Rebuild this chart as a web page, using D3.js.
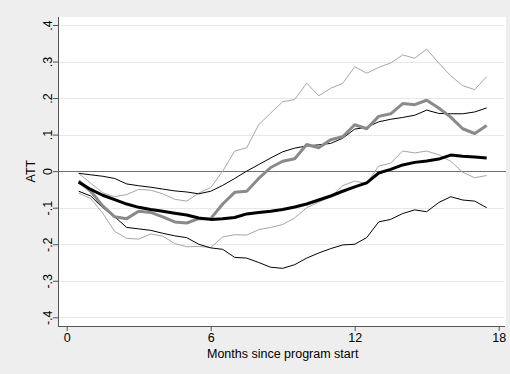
<!DOCTYPE html>
<html>
<head>
<meta charset="utf-8">
<script src="https://cdn.jsdelivr.net/npm/d3@7"></script>
<style>
  body { margin: 0; background: #eeeeee; }
  text { font-family: "Liberation Sans", Arial, sans-serif; fill: #000; }
</style>
</head>
<body>
<div id="chart"></div>
<script>
// months since start (x values shared by every series)
const months = [0.5, 1, 1.5, 2, 2.5, 3, 3.5, 4, 4.5, 5, 5.5, 6, 6.5, 7, 7.5, 8, 8.5, 9,
  9.5, 10, 10.5, 11, 11.5, 12, 12.5, 13, 13.5, 14, 14.5, 15, 15.5, 16, 16.5, 17, 17.5];

// ATT estimate (thick black) and its band (thin black)
const attA = [-0.03, -0.05, -0.066, -0.078, -0.09, -0.099, -0.105, -0.11, -0.115, -0.12, -0.128, -0.132,
  -0.13, -0.127, -0.117, -0.113, -0.11, -0.105, -0.098, -0.09, -0.079, -0.068, -0.055, -0.043,
  -0.032, -0.005, 0.005, 0.017, 0.024, 0.028, 0.033, 0.044, 0.041, 0.039, 0.036];
const upperA = [-0.006, -0.01, -0.014, -0.02, -0.035, -0.04, -0.044, -0.049, -0.054, -0.057, -0.062, -0.055,
  -0.039, -0.02, 0.0, 0.018, 0.036, 0.053, 0.063, 0.069, 0.072, 0.076, 0.09, 0.115,
  0.12, 0.135, 0.142, 0.147, 0.153, 0.167, 0.158, 0.157, 0.157, 0.162, 0.173];
const lowerA = [-0.055, -0.068, -0.1, -0.125, -0.154, -0.158, -0.162, -0.17, -0.177, -0.182, -0.2, -0.21,
  -0.214, -0.236, -0.238, -0.25, -0.263, -0.266, -0.256, -0.238, -0.224, -0.212, -0.202, -0.2,
  -0.182, -0.139, -0.132, -0.116, -0.106, -0.111, -0.086, -0.07, -0.079, -0.082, -0.1];

// second ATT estimate (thick gray) and its band (thin gray)
const attB = [-0.027, -0.055, -0.095, -0.125, -0.13, -0.11, -0.113, -0.125, -0.139, -0.142, -0.13, -0.13,
  -0.09, -0.058, -0.055, -0.02, 0.01, 0.027, 0.034, 0.073, 0.064, 0.086, 0.094, 0.127,
  0.116, 0.15, 0.157, 0.185, 0.182, 0.194, 0.173, 0.148, 0.116, 0.103, 0.125];
const upperB = [-0.006, -0.033, -0.059, -0.07, -0.064, -0.05, -0.052, -0.062, -0.077, -0.082, -0.06, -0.045,
  0.0, 0.055, 0.064, 0.127, 0.159, 0.19, 0.196, 0.241, 0.206, 0.227, 0.24, 0.286,
  0.268, 0.284, 0.296, 0.318, 0.309, 0.334, 0.296, 0.261, 0.234, 0.223, 0.259];
const lowerB = [-0.06, -0.075, -0.115, -0.165, -0.184, -0.186, -0.172, -0.178, -0.198, -0.207, -0.206, -0.209,
  -0.18, -0.174, -0.175, -0.16, -0.154, -0.146, -0.128, -0.1, -0.085, -0.07, -0.04, -0.027,
  -0.034, 0.014, 0.022, 0.055, 0.05, 0.055, 0.045, 0.027, -0.003, -0.018, -0.012];

const xTicks = [0, 6, 12, 18];
const yTicks = [-0.4, -0.3, -0.2, -0.1, 0, 0.1, 0.2, 0.3, 0.4];
const yTickLabels = ["-.4", "-.3", "-.2", "-.1", "0", ".1", ".2", ".3", ".4"];

const W = 510, H = 374;
const plot = { left: 58, top: 17, right: 506, bottom: 326 };

const svg = d3.select("#chart").append("svg")
  .attr("width", W)
  .attr("height", H);

svg.append("rect")
  .attr("width", W).attr("height", H)
  .attr("fill", "#eeeeee");

svg.append("rect")
  .attr("x", plot.left).attr("y", plot.top)
  .attr("width", plot.right - plot.left)
  .attr("height", plot.bottom - plot.top)
  .attr("fill", "#fff");

const x = d3.scaleLinear().domain([0, 18]).range([66.7, 498.7]);
const y = d3.scaleLinear().domain([-0.4, 0.4]).range([317.3, 25]);

// gridlines
svg.append("g")
  .selectAll("line")
  .data(yTicks.filter(d => d !== 0))
  .enter().append("line")
  .attr("x1", plot.left).attr("x2", plot.right - 2)
  .attr("y1", d => Math.round(y(d)) + 0.5)
  .attr("y2", d => Math.round(y(d)) + 0.5)
  .attr("stroke", "#e8e8e8")
  .attr("stroke-width", 1);

// reference line at zero
svg.append("line")
  .attr("x1", plot.left).attr("x2", plot.right)
  .attr("y1", Math.round(y(0)) + 0.5).attr("y2", Math.round(y(0)) + 0.5)
  .attr("stroke", "#707070")
  .attr("stroke-width", 1);

// series
const line = d3.line()
  .x((d, i) => x(months[i]))
  .y(d => y(d));

const series = [
  { values: upperB, color: "#a6a6a6", width: 1 },
  { values: lowerB, color: "#a6a6a6", width: 1 },
  { values: upperA, color: "#000", width: 1 },
  { values: lowerA, color: "#000", width: 1 },
  { values: attB, color: "#8a8a8a", width: 3 },
  { values: attA, color: "#000", width: 3 }
];

svg.append("g")
  .selectAll("path")
  .data(series)
  .enter().append("path")
  .attr("d", d => line(d.values))
  .attr("fill", "none")
  .attr("stroke", d => d.color)
  .attr("stroke-width", d => d.width)
  .attr("stroke-linejoin", "round");

// axes
const yAxis = svg.append("g")
  .attr("transform", `translate(${plot.left},0)`)
  .call(d3.axisLeft(y)
    .tickValues(yTicks)
    .tickSize(5)
    .tickPadding(2)
    .tickFormat((d, i) => yTickLabels[i]));
yAxis.select(".domain").remove();
yAxis.selectAll(".tick line").attr("stroke", "#555");
yAxis.selectAll(".tick text")
  .attr("x", null).attr("dy", null)
  .attr("transform", "translate(-6,0) rotate(-90)")
  .attr("text-anchor", "middle")
  .style("font-size", "12.5px");

const xAxis = svg.append("g")
  .attr("transform", `translate(0,${plot.bottom})`)
  .call(d3.axisBottom(x)
    .tickValues(xTicks)
    .tickSize(5)
    .tickPadding(2)
    .tickFormat(d3.format("d")));
xAxis.select(".domain").remove();
xAxis.selectAll(".tick line").attr("stroke", "#555");
xAxis.selectAll(".tick text").style("font-size", "12.5px");

svg.append("line")
  .attr("x1", plot.left + 0.5).attr("x2", plot.left + 0.5)
  .attr("y1", plot.top).attr("y2", plot.bottom)
  .attr("stroke", "#555");
svg.append("line")
  .attr("x1", plot.left).attr("x2", plot.right - 1)
  .attr("y1", plot.bottom + 0.5).attr("y2", plot.bottom + 0.5)
  .attr("stroke", "#555");

// axis titles
svg.append("text")
  .attr("transform", `translate(35,${y(0)}) rotate(-90)`)
  .attr("text-anchor", "middle")
  .style("font-size", "12.5px")
  .text("ATT");

svg.append("text")
  .attr("x", (x(0) + x(18)) / 2)
  .attr("y", 358)
  .attr("text-anchor", "middle")
  .style("font-size", "12.5px")
  .text("Months since program start");
</script>
</body>
</html>
